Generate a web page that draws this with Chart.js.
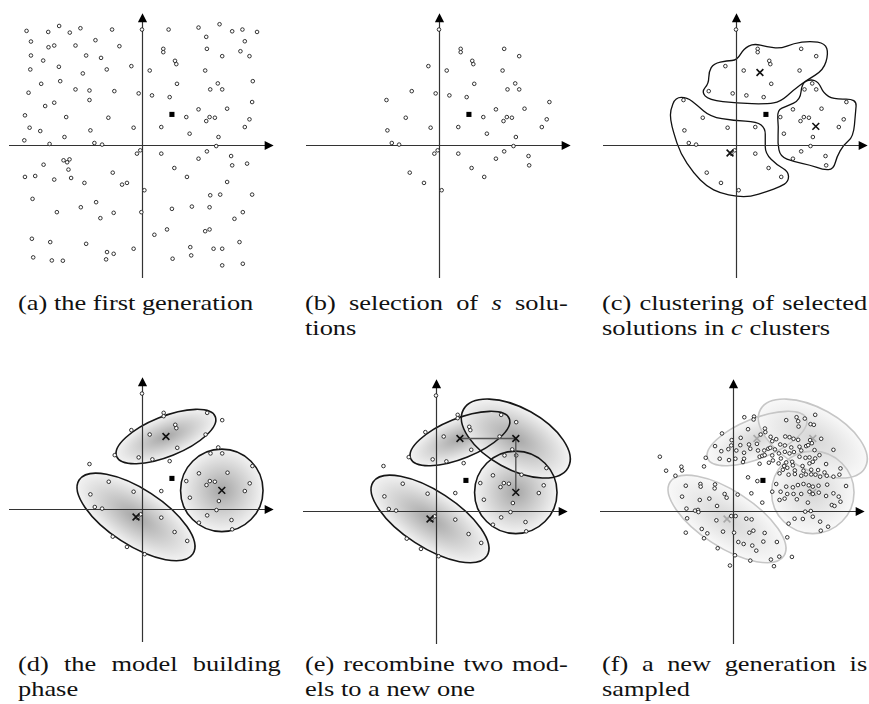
<!DOCTYPE html>
<html>
<head>
<meta charset="utf-8">
<script src="https://cdn.jsdelivr.net/npm/chart.js@4.4.0/dist/chart.umd.min.js"></script>
<style>
html, body { margin: 0; padding: 0; background: #fff; }
body { width: 869px; height: 704px; overflow: hidden; position: relative; font-family: "Liberation Serif", serif; }
canvas { position: absolute; }
.cap { position: absolute; width: 219px; font-size: 22px; line-height: 25px; color: #111;
  transform: scaleX(1.2); transform-origin: 0 0; }
.cap .j { text-align: justify; text-align-last: justify; }
</style>
</head>
<body>

<div class="cap" style="left:18px;top:290px"><div>(a) the first generation</div></div>
<div class="cap" style="left:305px;top:290px"><div class="j">(b) selection of <i>s</i> solu-</div><div>tions</div></div>
<div class="cap" style="left:602px;top:290px;width:221px"><div class="j">(c) clustering of selected</div><div>solutions in <i>c</i> clusters</div></div>
<div class="cap" style="left:18px;top:651px"><div class="j">(d) the model building</div><div>phase</div></div>
<div class="cap" style="left:305px;top:651px"><div class="j">(e) recombine two mod-</div><div>els to a new one</div></div>
<div class="cap" style="left:602px;top:651px;width:221px"><div class="j">(f) a new generation is</div><div>sampled</div></div>

<script>
// --- DATA (axis units: both axes run from -100 to 100) ---

// (a) first generation
const genX = [-86.8, -70.5, -62.3, -54.3, -46.3, -22.5, 0, 20, 42.5, 58.3, 67.8, 75.5, 86.5, 48.3, 77.3,
  -83.5, -70.3, -66, -50, -35, -17, 16, 16, 48.8, 74, -83.5, -74.3, -42, -30.8, 60.3, 80.8, 24.8, 25.8,
  -84, -62.5, -44.5, -26.5, -8, 5.8, 47.5, -75.8, -61.5, 26.3, 57, 83.3, -85.3, -50, -39.5, -20.8, -2.5,
  7.5, 20.8, 51.3, 60.3, -66, -72.8, -39.5, 82.8, 42.5, 64, -88, -57, -25.3, 33.3, 50.8, 54.8, 48.3, 80.8,
  -84.5, -76.5, -38.8, -6.3, 14.5, 77.3, -58.3, 35.8, 57.5, -88.5, -69.5, -35.8, -30, 55.8,
  -3.8, -1.3, 14.5, 48.8, 67, 42.5, 67.8, 79, -74, -59, -56.3, -54.5, -55.3, 24.3, -88, -80.3, -66, -53.3,
  -22, 33.8, -43.3, -15, -11.3, 64, 1.8, -82.3, -34.5, 51.3, 58.8, 82.8, -46, 22.5, 37.5, 50.8, -64, -21.3,
  -0.5, 75.8, -31.3, 69.5, 18.8, 9.3, 47.5, 50.8, -82.8, -69, -42, 73.3, -6.3, 36.3, 53.8, 60.3, -26.3,
  -21.3, 37, -81.8, -67.8, -59.5, -27, 23, 60.3, 75.8];
const genY = [85.8, 85, 89.5, 84.5, 87.8, 86.8, 86.8, 86.8, 88.3, 90.8, 85.5, 86.8, 85, 81.3, 78,
  77.8, 73.5, 74.8, 74.8, 78.8, 74.3, 72.3, 69.8, 72.3, 70.5, 67.3, 63.5, 67.3, 65.5, 66.8, 66.8, 63.3, 60.8,
  56.8, 58.8, 53.8, 56.8, 59.3, 56, 56, 46, 48, 46, 46.3, 48, 39.3, 41.8, 41, 40.5, 38.8,
  37.3, 36, 41.8, 41.8, 31.8, 29.3, 33.8, 32.3, 26.8, 27.3, 22.3, 21, 20.5, 21, 21, 20.5, 18, 19.3,
  13, 10.5, 11, 13, 13.5, 13.5, 6, 8.5, 6, 3.5, 0.8, 1.5, 0.3, -0.8,
  -6.5, -4, -6.5, -4.8, -8.3, -10.3, -15.3, -14, -14.8, -11.5, -13, -10.8, -18.5, -17.3, -24, -23.3, -26, -24.8,
  -20.8, -24, -28.5, -29.8, -28.5, -27.8, -34, -40.5, -43, -37.8, -37.3, -37.3, -46.8, -48, -46.3, -46.8, -50.5, -51,
  -50.5, -50.5, -55, -55.5, -63.5, -67.5, -64.8, -63.5, -70.5, -73, -74.3, -73, -78, -76.8, -78, -78, -80.5,
  -81.8, -83, -84.5, -86.8, -87, -86, -85.5, -90.5, -89.3];

// (b)-(e) the s selected solutions
const selX = [0, 16.3, 16.3, 49, 60.3, 25, 25.8, -8, 5.8, 47.8, 26.5, 57.3, -20.5, -2.5, 7.8, 51.5, 60.3,
  20.8, -39.5, 83, 42.8, 64.3, -25, 33.3, 51, 54.8, 48.5, 81, -38.8, -6.3, 14.5, 77.3, 36, 57.8, -35.5,
  -30, 56, -3.5, -1, 14.5, 49, 67.3, 42.8, 67.8, 24.5, 34, -22, -11.3, 2];
const selY = [86.8, 72.3, 69.8, 72.3, 66.8, 63.3, 60.8, 59.3, 56, 56, 46, 46.3, 40.5, 38.8, 37.3, 41.8, 41.8,
  36, 33.8, 32.3, 26.8, 27.3, 20.5, 21, 21, 20.5, 18, 19.3, 11, 13, 13.5, 13.5, 8.5, 6, 1.5,
  0.3, -0.8, -6.5, -4, -6.5, -4.8, -8.3, -10.3, -15.3, -17.3, -24, -20.8, -28.5, -34];

// mean of the population (black square)
const meanX = [22.5];
const meanY = [23];

// cluster centres c1, c2, c3 and the recombined model
const cenX = [18, 60, -4.5];
const cenY = [54.5, 14, -6];
const newX = [60];
const newY = [54.5];

// model shapes: semi axes and rotation (degrees) for c1, c2, c3, recombined
const ellA = [40, 31, 51, 45];
const ellB = [15, 31, 21, 23];
const ellAng = [22, 0, -33, -29];

// (c) cluster outlines
const blob1X = [-26, -20.5, 0.8, 23.3, 33.3, 43.3, 53.3, 65.8, 69.5, 67, 55.8, 43.3, 33.3, 23.3, 13.3, 5.8, 0.8, -6.8, -16.8, -20.5, -20.5];
const blob1Y = [40, 33.8, 31.3, 30.8, 32.5, 41.3, 48.8, 56.3, 68.8, 76.3, 78.3, 76.3, 72.5, 73.8, 76.3, 72.5, 63.8, 63.3, 61.3, 55, 46.3];
const blob2X = [30.8, 38.3, 48.3, 49.5, 55.8, 62, 65.8, 73.3, 90.8, 89.8, 88.3, 80.8, 75.8, 73.3, 65.8, 55.8, 43.3, 33.3, 31.3, 32];
const blob2Y = [26.3, 29.3, 33.8, 46.3, 49.5, 47.5, 38.8, 34.3, 34.8, 23.8, 6.3, 0, -8.8, -18.3, -18.8, -15, -12.5, -8.8, 1.3, 13.8];
const blob3X = [-49.3, -45.5, -36.8, -29.3, -19.3, -1.8, 15.8, 22, 22, 22, 30.8, 39.5, 39.5, 33.3, 23.3, 10.8, 0.8, -11.8, -21.8, -31.8, -41.8, -46.8, -49.3];
const blob3Y = [26.3, 35.8, 35.8, 30, 21.3, 18.3, 17.5, 12.5, 3.8, -6.3, -15, -20, -27.5, -31.3, -35, -38.8, -38.8, -36.3, -31.3, -21.3, -6.3, 8.8, 18.8];

// (f) the new generation
const sampX = [8.5, 15.8, 15.5, 40, 47.8, 49, 61.8, 54, 58.3, 60.8, 49.3, 11.3, 24, 24.3, -8.3, 20.8, 28.3,
  32.5, 39.3, 42.5, 45.5, 49, 5.8, -1, 66.3, 58, -13.5, -1.3, 5.5, 12, 18, 29.5, 35.5, 39, 43.8, 50, 55,
  59.3, 56.5, 13, -8.8, -3.5, 2.5, 8.3, 18.8, 23.5, 26.5, 28, 31.5, 34.5, 39, 42.5, 45.8, 51.3, 61.3, 75.5,
  65, 20, 22, 23.8, 29.5, 36, 30, 8.3, 1.8, -3, -10, -20.5, -55, -38.8, -38.3, -50.3, -43.3, -21.8, 7.5,
  20, 27, 34.3, 40, 44.5, 50, 54.5, 57.5, 61.8, 45, 52.3, 57.5, 60, 70, 80.8, 80, 40.8, 38.5, 37.5, 46.5,
  53, 58.8, 64, 68.8, 35, 41.8, 46.5, 51.3, 54.8, 58.8, 62, 65.5, 70.5, 75.5, 11.3, 18.3, 32.5, 40, 45,
  48.8, 53, 57, 60, 64.3, 70.8, 85, 29.5, 35.8, 40.8, 45.5, 51.3, 57.5, 60, 64.5, 70, 75.5, 79.5, 80.8,
  74.3, 76.3, 38.8, 35, 48, 56.3, 22, 13.8, 3.5, -35.5, -24.5, -24.3, -13.5, -13.8, -6.3, -4.8, -38.3,
  -25, -17.8, -12, -35, -28.5, -26.3, -26, -12.5, -1.3, 2, 10, 14, -34.5, 54.3, 58.5, 60, 46.3, 52.5,
  65.5, 41.8, 71.5, 66, -35.5, -23.5, -19.3, -21.8, -7.5, 0.8, 12.3, 15.3, 23.8, -11.5, 4, 8, 14.5, 17.5,
  22.8, 33, 40.8, 1.5, 13, 28.5, 34.8, 44.3, 30.8, -2.3];
const sampY = [70.5, 71, 68.8, 68.3, 70.5, 67.5, 72.3, 69.5, 65.3, 64.8, 63.5, 61.5, 62, 59.3, 58.3, 57.5, 55.8,
  54, 56, 55.5, 54.3, 53.5, 55, 53.3, 54.3, 53.3, 48.8, 49.3, 49.5, 50, 50.5, 52.5, 50, 49.3, 47.8, 48.3, 48.8,
  51, 49.5, 46.8, 45, 46.5, 45.5, 43.8, 45.5, 45.5, 46.8, 47.5, 46.3, 43.3, 44.5, 43.3, 44.3, 45.5, 45.8, 46,
  42, 40.8, 41.5, 42, 41.8, 39.5, 38, 39.3, 39.3, 38.3, 39.3, 40, 40.8, 33.3, 30.5, 30.3, 26.5, 33.5, 36.8,
  35.5, 36.3, 35.8, 36.5, 37, 40.8, 40, 40.3, 39.5, 34.3, 33.8, 35.8, 37, 35.3, 32, 27.3, 32.5, 33.8, 31, 30.5,
  30.3, 31, 30.8, 29, 28.3, 27.3, 27.8, 26.5, 27.5, 27.5, 27.3, 25.8, 26.5, 25.8, 25.3, 22.5, 20.3, 18.3, 17.8,
  19.5, 20.3, 19.3, 18.3, 19, 19.8, 18.8, 14.5, 14.5, 12.8, 12.8, 12.8, 14.5, 12.8, 13.8, 11.3, 13.3, 10.8, 7,
  4.5, 3.8, 9.3, 8.3, 8.8, 6.3, 6.3, 13.3, 12.3, 19, 20.3, 18.3, 20, 17, 12.8, 10, 10.8,
  8.3, 9.3, 3.8, 1.8, 0.3, 0.8, -0.8, -7, -3.8, -3.8, -5.8, -6.3, -5.5, -0.5, 0, -4.3, -5.8, -6,
  -8, -9.5, -11.8, -14.8, -16.3, -13.5, -16.8, -20.5, -15.5, -16.3, -16.3, -14.8, -16.5, -28, -23.3, -24.8, -26, -29.8,
  -23, -23.3, -19.8, -33.3, -37.3, -36.5, -34.3, -34.5, -41.5, -41];

// --- HELPERS ---
const pts = (xs, ys) => xs.map((x, i) => ({ x: x, y: ys[i] }));

function dots(xs, ys) {
  return { data: pts(xs, ys), pointStyle: 'circle', pointRadius: 1.8, pointBorderWidth: 0.9,
    pointBorderColor: '#1e1e1e', pointBackgroundColor: '#fff', showLine: false };
}
function meanSet() {
  return { data: pts(meanX, meanY), pointStyle: 'rect', pointRadius: 3.6, pointBorderWidth: 0,
    pointBackgroundColor: '#000', showLine: false };
}
function crosses(xs, ys, color) {
  return { data: pts(xs, ys), pointStyle: 'crossRot', pointRadius: 4.8, pointBorderWidth: 1.6,
    pointBorderColor: color, showLine: false };
}
function models(idx) {
  return idx.map(i => ({
    cx: i < 3 ? cenX[i] : newX[0], cy: i < 3 ? cenY[i] : newY[0],
    a: ellA[i], b: ellB[i], angle: ellAng[i]
  }));
}

// draws outlines, model ellipses and the two arrow axes under the points
const figurePlugin = {
  id: 'figure',
  beforeDatasetsDraw(chart, args, opts) {
    const ctx = chart.ctx;
    const xs = chart.scales.x, ys = chart.scales.y;
    const px = v => xs.getPixelForValue(v);
    const py = v => ys.getPixelForValue(v);
    const unit = px(1) - px(0);
    ctx.save();

    (opts.blobs || []).forEach(b => {
      const p = b.x.map((x, i) => [px(x), py(b.y[i])]);
      const n = p.length;
      const mid = (a, c) => [(a[0] + c[0]) / 2, (a[1] + c[1]) / 2];
      ctx.beginPath();
      let m = mid(p[n - 1], p[0]);
      ctx.moveTo(m[0], m[1]);
      for (let i = 0; i < n; i++) {
        m = mid(p[i], p[(i + 1) % n]);
        ctx.quadraticCurveTo(p[i][0], p[i][1], m[0], m[1]);
      }
      ctx.closePath();
      ctx.strokeStyle = '#111';
      ctx.lineWidth = 1.3;
      ctx.stroke();
    });

    const ells = opts.ellipses || [];
    ells.forEach(e => {
      ctx.save();
      ctx.translate(px(e.cx), py(e.cy));
      ctx.rotate(-e.angle * Math.PI / 180);
      ctx.scale(1, e.b / e.a);
      const r = e.a * unit;
      const g = ctx.createRadialGradient(0, 0, 0, 0, 0, r);
      g.addColorStop(0, opts.fillInner);
      g.addColorStop(1, opts.fillOuter);
      ctx.beginPath();
      ctx.arc(0, 0, r, 0, Math.PI * 2);
      ctx.globalAlpha = opts.fillAlpha;
      ctx.fillStyle = g;
      ctx.fill();
      ctx.restore();
    });
    ells.forEach(e => {
      ctx.beginPath();
      ctx.ellipse(px(e.cx), py(e.cy), e.a * unit, e.b * unit, -e.angle * Math.PI / 180, 0, Math.PI * 2);
      ctx.strokeStyle = opts.edge;
      ctx.lineWidth = 1.6;
      ctx.stroke();
    });

    // axes with arrow heads
    const x0 = Math.round(px(0)) + 0.5, y0 = Math.round(py(0)) + 0.5;
    const xl = px(-100), xr = px(99), yb = py(-100), yt = py(99);
    ctx.strokeStyle = '#333';
    ctx.lineWidth = 1.2;
    ctx.beginPath();
    ctx.moveTo(xl, y0); ctx.lineTo(xr - 6, y0);
    ctx.moveTo(x0, yb); ctx.lineTo(x0, yt + 6);
    ctx.stroke();
    ctx.fillStyle = '#000';
    ctx.beginPath();
    ctx.moveTo(xr, y0); ctx.lineTo(xr - 9, y0 - 4.6); ctx.lineTo(xr - 9, y0 + 4.6); ctx.closePath();
    ctx.moveTo(x0, yt); ctx.lineTo(x0 - 4.6, yt + 9); ctx.lineTo(x0 + 4.6, yt + 9); ctx.closePath();
    ctx.fill();
    ctx.restore();
  }
};

function makePanel(left, top, datasets, fig) {
  const cv = document.createElement('canvas');
  cv.width = 290; cv.height = 290;
  cv.style.left = left + 'px';
  cv.style.top = top + 'px';
  document.body.appendChild(cv);
  new Chart(cv.getContext('2d'), {
    type: 'scatter',
    data: { datasets: datasets },
    options: {
      responsive: false,
      animation: false,
      events: [],
      devicePixelRatio: 1,
      layout: { padding: 12 },
      plugins: { legend: { display: false }, tooltip: { enabled: false }, figure: fig },
      scales: {
        x: { type: 'linear', min: -100, max: 100, display: false },
        y: { type: 'linear', min: -100, max: 100, display: false }
      }
    },
    plugins: [figurePlugin]
  });
}

const darkModel = { fillInner: '#9c9c9c', fillOuter: '#f2f2f2', fillAlpha: 0.9, edge: '#161616' };
const paleModel = { fillInner: '#d2d2d2', fillOuter: '#f8f8f8', fillAlpha: 0.9, edge: '#c6c6c6' };

// (a)
makePanel(-2.7, 0, [meanSet(), dots(genX, genY)], {});
// (b)
makePanel(294, 0, [meanSet(), dots(selX, selY)], {});
// (c)
makePanel(590.7, 0, [crosses(cenX, cenY, '#111'), meanSet(), dots(selX, selY)], {
  blobs: [{ x: blob1X, y: blob1Y }, { x: blob2X, y: blob2Y }, { x: blob3X, y: blob3Y }]
});
// (d)
makePanel(-3.3, 364.3, [crosses(cenX, cenY, '#111'), meanSet(), dots(selX, selY)],
  Object.assign({ ellipses: models([2, 1, 0]) }, darkModel));
// (e)
const linkX = [cenX[0], newX[0], cenX[1]];
const linkY = [cenY[0], newY[0], cenY[1]];
makePanel(290.7, 366, [
  crosses(cenX.concat(newX), cenY.concat(newY), '#111'),
  { data: pts(linkX, linkY), showLine: true, borderColor: '#555', borderWidth: 1.4, pointRadius: 0 },
  meanSet(), dots(selX, selY)
], Object.assign({ ellipses: models([2, 1, 0, 3]) }, darkModel));
// (f)
makePanel(588.3, 366, [meanSet(), dots(sampX, sampY), crosses(cenX.concat(newX), cenY.concat(newY), '#a8a8a8')],
  Object.assign({ ellipses: models([2, 1, 0, 3]) }, paleModel));
</script>
</body>
</html>
